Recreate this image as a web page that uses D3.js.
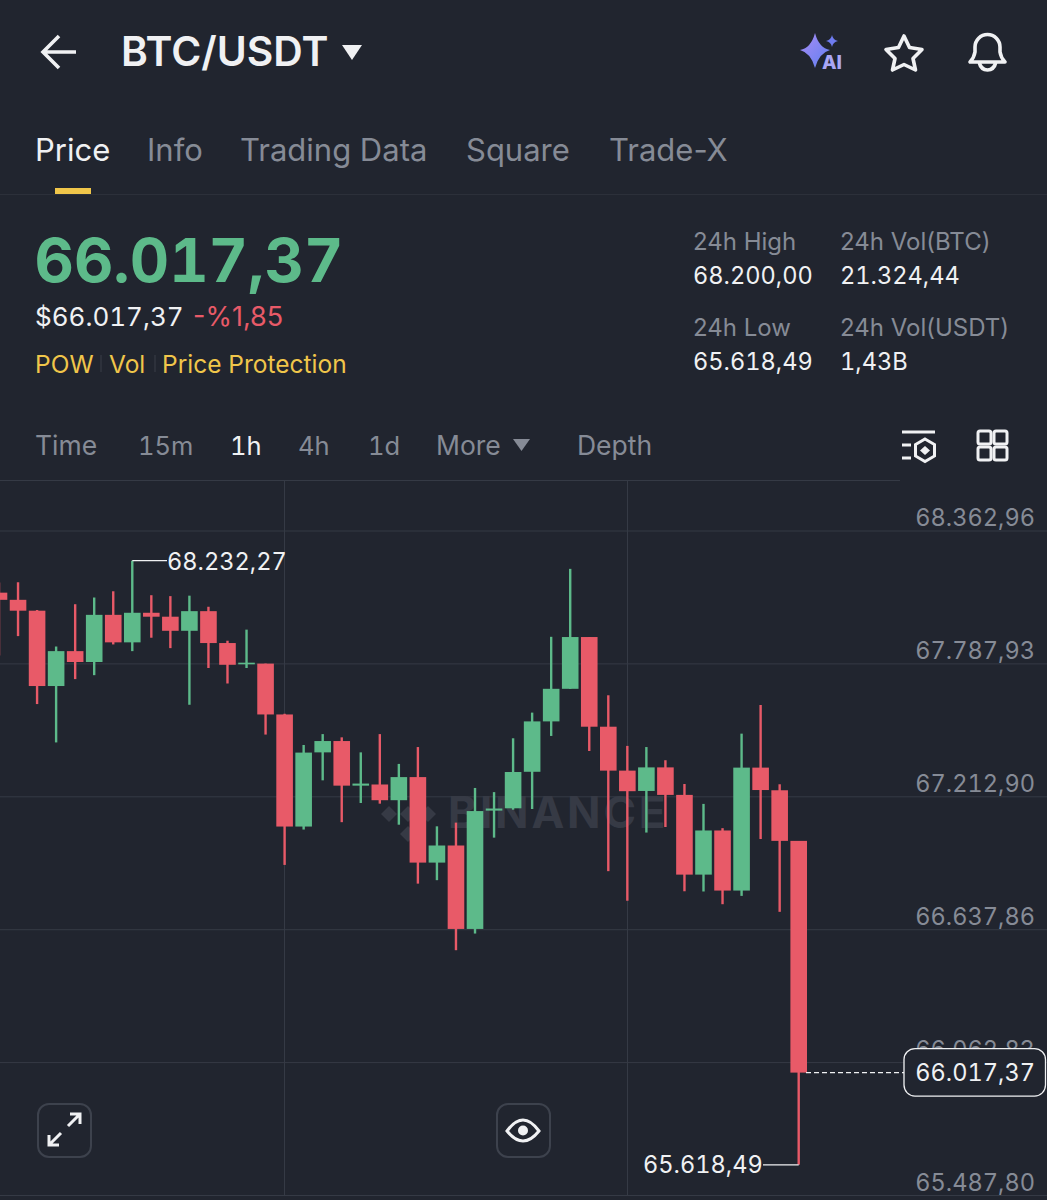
<!DOCTYPE html>
<html>
<head>
<meta charset="utf-8">
<script src="https://cdn.jsdelivr.net/npm/d3@7"></script>
<style>
  html, body { margin: 0; padding: 0; background: #21252f; }
  svg { display: block; }
  text { font-family: Inter, "Noto Sans", sans-serif; }
  .num { font-variant-numeric: tabular-nums; }
</style>
</head>
<body>
<svg id="chart" width="1047" height="1200"></svg>
<script>
const candleOpen = [68094,68063,68016,67690,67841,67794,67998,67879,68007,67990,67929,68014,67876,67784,67787,67567,67082,67403,67452,67259,67264,67196,67296,66926,67000,66639,67151,67161,67319,67537,67678,67902,67514,67324,67236,67338,67219,66874,67065,66805,67337,67239,67020];
const candleHigh = [68138,68139,68019,67861,68044,68073,68100,68232.27,68083,68079,68081,68033,67886,67934,67787,67570,67435,67482,67468,67403,67482,67353,67426,67083,67099,67249,67231,67464,67575,67903,68197,67902,67650,67431,67426,67369,67266,67180,67075,67484,67608,67265,67020];
const candleLow = [67822,67906,67612,67446,67720,67737,67870,67841,67899,67854,67609,67768,67701,67768,67480,66916,67069,67282,67101,67184,67181,67090,66835,66850,66547,66619,67034,67155,67158,67474,67678,67409,66889,66761,67056,67080,66802,66801,66746,66782,67028,66713,65618.49];
const candleClose = [68063,68016,67690,67841,67794,67998,67879,68007,67990,67929,68014,67876,67782,67791,67567,67082,67402,67452,67259,67268,67196,67296,66926,67000,66639,67149,67160,67318,67537,67678,67902,67514,67324,67235,67338,67219,66874,67065,66805,67337,67240,67020,66017.37];

const priceTicks = [68362.96,67787.93,67212.90,66637.86,66062.83,65487.80];
const lastPrice = 66017.37;
const highPrice = 68232.27;
const lowPrice = 65618.49;

const navTabs = ['Price','Info','Trading Data','Square','Trade-X'];
const navTabX = [35,147,240,466,609];
const intervals = ['Time','15m','1h','4h','1d','More','Depth'];
const intervalX = [35,138,230,298,368,436,577];
const tagLabels = ['POW','Vol','Price Protection'];
const tagX = [35,109,162];
const statLabels = ['24h High','24h Vol(BTC)','24h Low','24h Vol(USDT)'];
const statValues = ['68.200,00','21.324,44','65.618,49','1,43B'];

const BG = '#21252f', GREEN = '#5dba8a', RED = '#e85a68', GRAY = '#868b96', WHITE = '#f0f1f3', YELLOW = '#f0c64a', GRID = '#353a45';
const VALUE_SIZE = 23.6;

const svg = d3.select('#chart');
const locale = d3.formatLocale({ decimal: ',', thousands: '.', grouping: [3], currency: ['$', ''] });
const fmt = locale.format(',.2f');

const candles = candleOpen.map((o, i) => ({ i, o, h: candleHigh[i], l: candleLow[i], c: candleClose[i] }));

// scales, pinned to the two outer gridlines of the picture
const y = d3.scaleLinear().domain([65487.80, 68362.96]).range([1195, 530.5]);
const x = d3.scaleLinear().domain([0, 42]).range([-1, 798.7]);
const bodyW = 16.6;

svg.append('rect').attr('width', 1047).attr('height', 1200).attr('fill', BG);

// ---- header
const label = (g, s, px, py, size, fill, weight) => g.append('text')
    .attr('x', px).attr('y', py).attr('font-size', size).attr('fill', fill)
    .attr('font-weight', weight || 400).text(s);

const head = svg.append('g');
head.append('path').attr('d', 'M76 52H43M59 36L43 52L59 68').attr('fill', 'none')
    .attr('stroke', WHITE).attr('stroke-width', 3.6);
label(head, 'BTC/USDT', 121, 66, 40.8, WHITE, 600);
head.append('path').attr('d', 'M342 45H362L352 60Z').attr('fill', WHITE);

const defs = svg.append('defs');
const aiGrad = defs.append('linearGradient').attr('id', 'aiGrad').attr('x1', 0).attr('x2', 1).attr('y1', 0).attr('y2', 1);
aiGrad.append('stop').attr('offset', 0).attr('stop-color', '#a98cf5');
aiGrad.append('stop').attr('offset', 1).attr('stop-color', '#5f7ff0');
head.append('path').attr('d', 'M815 33Q819 48 830 50Q819 53 815 68Q811 53 800 50Q811 48 815 33Z').attr('fill', 'url(#aiGrad)');
head.append('path').attr('d', 'M832 35Q833 40 838 41Q833 42 832 47Q831 42 826 41Q831 40 832 35Z').attr('fill', '#6f7cf0');
label(head, 'AI', 822, 69, 19, '#a9a6f5', 800);
head.append('path').attr('d', 'M904 36L909.5 47.5L922 49.5L913 58.5L915.5 70L904 64.5L892.5 70L895 58.5L886 49.5L898.5 47.5Z')
    .attr('fill', 'none').attr('stroke', WHITE).attr('stroke-width', 3.6).attr('stroke-linejoin', 'round');
head.append('path').attr('d', 'M970 62H1005Q1001 58 1000 52V47A12.5 12.5 0 0 0 975 47V52Q974 58 970 62ZM979 62Q981 70 987.5 70Q994 70 996 62')
    .attr('fill', 'none').attr('stroke', WHITE).attr('stroke-width', 3.6).attr('stroke-linejoin', 'round');

// ---- tabs
const tabs = svg.append('g');
navTabs.forEach((t, i) => label(tabs, t, navTabX[i], 161, 31, i === 0 ? WHITE : GRAY, 400));
tabs.append('rect').attr('x', 55).attr('y', 188).attr('width', 36).attr('height', 6).attr('fill', YELLOW);
tabs.append('line').attr('x1', 0).attr('x2', 1047).attr('y1', 194.5).attr('y2', 194.5).attr('stroke', '#2c303a');

// ---- price block
const block = svg.append('g');
label(block, fmt(lastPrice), 34.5, 282, 61, GREEN, 700).classed('num', true);
label(block, '$' + fmt(lastPrice), 35, 326, 26, WHITE, 400).classed('num', true);
label(block, '-%1,85', 193, 326, 27, RED, 400);
tagLabels.forEach((t, i) => label(block, t, tagX[i], 373, 24.5, YELLOW, 400));
block.selectAll('.sep').data([101, 155]).enter().append('line')
    .attr('x1', d => d).attr('x2', d => d).attr('y1', 355).attr('y2', 372).attr('stroke', '#3a3e48');

statLabels.forEach((s, i) => {
    const sx = i % 2 ? 840 : 693;
    const sy = i < 2 ? 250 : 336;
    label(block, s, sx, sy, 24, GRAY, 400);
    label(block, statValues[i], sx, sy + 34, VALUE_SIZE, WHITE, 400).classed('num', true);
});

// ---- interval row
const row = svg.append('g');
intervals.forEach((t, i) => {
    const hasDigit = /\d/.test(t);
    label(row, t, intervalX[i], 455, hasDigit ? 25.5 : 26.5, t === '1h' ? WHITE : GRAY, 400).classed('num', hasDigit);
});
row.append('path').attr('d', 'M513 439H530L521.5 451Z').attr('fill', GRAY);
row.append('path').attr('d', 'M902 432H935M902 445H911M902 458H911').attr('stroke', WHITE).attr('stroke-width', 3).attr('fill', 'none');
row.append('path').attr('d', 'M925 439L934.5 444.5V456L925 461.5L915.5 456V444.5Z').attr('stroke', WHITE).attr('stroke-width', 3).attr('fill', 'none');
row.append('path').attr('d', 'M925 446L930 450.5L925 455L920 450.5Z').attr('fill', WHITE);
row.selectAll('.cell').data([[978, 431], [994, 431], [978, 447], [994, 447]]).enter().append('rect')
    .attr('x', d => d[0]).attr('y', d => d[1]).attr('width', 13).attr('height', 13).attr('rx', 2)
    .attr('fill', 'none').attr('stroke', WHITE).attr('stroke-width', 3);

// ---- grid and price axis
svg.append('line').attr('x1', 0).attr('x2', 900).attr('y1', 480.5).attr('y2', 480.5).attr('stroke', GRID);
svg.selectAll('.vgrid').data([284.5, 627.5]).enter().append('line')
    .attr('x1', d => d).attr('x2', d => d).attr('y1', 480).attr('y2', 1195).attr('stroke', GRID);

const axis = d3.axisRight(y).tickValues(priceTicks).tickFormat(fmt).tickSize(1047);
const axisG = svg.append('g').call(axis);
axisG.select('.domain').remove();
axisG.selectAll('.tick line').attr('stroke', GRID);
axisG.selectAll('.tick text')
    .attr('class', 'num')
    .attr('x', 1035).attr('dy', -5).attr('text-anchor', 'end')
    .attr('font-size', VALUE_SIZE).attr('fill', GRAY)
    .attr('font-family', 'Inter, "Noto Sans", sans-serif');

// ---- watermark, sits under the candles
const mark = svg.append('g').attr('fill', '#363a45');
label(mark, 'BINANCE', 448, 828, 44, '#363a45', 700).attr('letter-spacing', 2.8);
mark.append('path').attr('d', 'M389 806L397 814L389 822L381 814ZM408 806L416 814L408 822L400 814ZM428 806L436 814L428 822L420 814ZM408 826L416 834L408 842L400 834Z');

// ---- candles
const candleG = svg.append('g');
candleG.selectAll('.wick').data(candles).enter().append('line')
    .attr('x1', d => x(d.i)).attr('x2', d => x(d.i))
    .attr('y1', d => y(d.h)).attr('y2', d => y(d.l))
    .attr('stroke', d => d.c >= d.o ? GREEN : RED).attr('stroke-width', 2.4);
candleG.selectAll('.body').data(candles).enter().append('rect')
    .attr('x', d => x(d.i) - bodyW / 2).attr('width', bodyW)
    .attr('y', d => y(Math.max(d.o, d.c)))
    .attr('height', d => Math.max(1.6, Math.abs(y(d.o) - y(d.c))))
    .attr('fill', d => d.c >= d.o ? GREEN : RED);

// ---- high / low callouts
const hiLo = svg.append('g');
hiLo.append('path').attr('fill', 'none').attr('stroke', WHITE).attr('stroke-width', 1.2)
    .attr('d', `M${x(7)} ${y(highPrice)}H167`);
label(hiLo, fmt(highPrice), 167, 570, VALUE_SIZE, WHITE, 400).classed('num', true);
hiLo.append('path').attr('fill', 'none').attr('stroke', WHITE).attr('stroke-width', 1.2)
    .attr('d', `M${x(42)} ${y(lowPrice)}H763`);
label(hiLo, fmt(lowPrice), 643, 1173, VALUE_SIZE, WHITE, 400).classed('num', true);

// ---- last price tag, covers the lower half of the 66.062,83 tick label
const tag = svg.append('g');
tag.append('line').attr('x1', 806).attr('x2', 904).attr('y1', y(lastPrice)).attr('y2', y(lastPrice))
    .attr('stroke', WHITE).attr('stroke-width', 1.2).attr('stroke-dasharray', '5 3');
tag.append('rect').attr('x', 904).attr('y', y(lastPrice) - 24).attr('width', 141.5).attr('height', 47.5).attr('rx', 11)
    .attr('fill', BG).attr('stroke', WHITE).attr('stroke-width', 1.3);
label(tag, fmt(lastPrice), 1035, 1081, VALUE_SIZE, WHITE, 400).attr('text-anchor', 'end').classed('num', true);

// ---- round buttons on the chart
const buttons = svg.append('g');
buttons.selectAll('rect').data([38, 497]).enter().append('rect')
    .attr('x', d => d).attr('y', 1104).attr('width', 53).attr('height', 53).attr('rx', 11)
    .attr('fill', BG).attr('stroke', '#3d424d').attr('stroke-width', 2);
buttons.append('path').attr('d', 'M68 1126L80 1114M70 1114H80V1124M61 1133L49 1145M49 1135V1145H59')
    .attr('fill', 'none').attr('stroke', WHITE).attr('stroke-width', 3);
buttons.append('path').attr('d', 'M507 1131Q523 1109 539 1131Q523 1151 507 1131Z')
    .attr('fill', 'none').attr('stroke', WHITE).attr('stroke-width', 3);
buttons.append('circle').attr('cx', 523).attr('cy', 1130.5).attr('r', 5).attr('fill', WHITE);
</script>
</body>
</html>
